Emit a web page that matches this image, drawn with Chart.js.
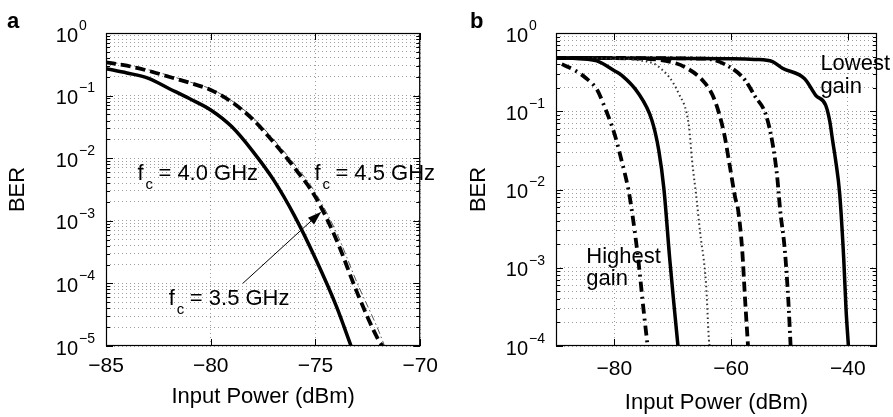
<!DOCTYPE html>
<html><head><meta charset="utf-8">
<script src="https://cdn.jsdelivr.net/npm/chart.js@4.4.0/dist/chart.umd.min.js"></script>
<style>
html,body{margin:0;padding:0;background:#fff;}
#wrap{position:relative;width:893px;height:417px;overflow:hidden;}
canvas{position:absolute;top:0;}
#ca{left:0;}
#cb{left:446px;}
</style></head><body>
<div id="wrap"><canvas id="ca" width="446" height="417"></canvas><canvas id="cb" width="447" height="417"></canvas></div>
<script>
// ---------- tick labels ----------
const xTicksA = [-85, -80, -75, -70];
const yExpA = [-5, -4, -3, -2, -1, 0];
const xTicksB = [-80, -60, -40];
const yExpB = [-4, -3, -2, -1, 0];

// ---------- panel a : BER vs input power for three carrier frequencies ----------
const a40_x = [-85, -84, -83, -82, -81, -80, -79, -78, -77, -76, -75, -74, -73.3];
const a40_y = [0.27, 0.23, 0.19, 0.13, 0.089, 0.059, 0.032, 0.013, 0.0045, 0.0012, 2.5e-4, 4.3e-5, 1e-5];
const a45_x = [-85, -84, -83, -82, -81, -80, -79, -78, -77, -76, -75, -74, -73, -72, -71.8];
const a45_y = [0.34, 0.30, 0.25, 0.20, 0.16, 0.123, 0.079, 0.042, 0.018, 7e-3, 2.4e-3, 5e-4, 7e-5, 1.26e-5, 1e-5];
const a35_x = [-85, -84, -83, -82, -81, -80, -79, -78, -77, -76, -75, -74, -73, -72, -71.7];
const a35_y = [0.35, 0.31, 0.26, 0.21, 0.165, 0.128, 0.083, 0.045, 0.02, 8e-3, 2.8e-3, 6.5e-4, 1e-4, 1.8e-5, 1e-5];

// ---------- panel b : BER vs input power for six gain settings ----------
const b1_x = [-89, -87, -85, -83, -81.7, -80, -78.8, -77.6, -77.1, -75.9, -75, -74.3];
const b1_y = [0.40, 0.34, 0.27, 0.19, 0.115, 0.052, 0.024, 0.01, 6.0e-3, 1.26e-3, 2.9e-4, 1e-4];
const b2_x = [-90, -86, -83, -80, -78.8, -75.9, -73.6, -72.4, -71.5, -70.5, -69.7, -69.1];
const b2_y = [0.48, 0.47, 0.44, 0.33, 0.29, 0.17, 0.078, 0.032, 0.01, 1.26e-3, 2.9e-4, 1e-4];
const b3_x = [-90, -80, -76, -72.4, -69, -67.2, -66.7, -65.9, -65.3, -64.3, -63.8, -63.7];
const b3_y = [0.48, 0.47, 0.45, 0.37, 0.17, 0.063, 0.024, 7.4e-3, 2.8e-3, 6.3e-4, 1.2e-4, 1e-4];
const b4_x = [-90, -75, -70, -68, -64.5, -62.8, -61.2, -60.2, -59.3, -58.8, -58.1, -57.6, -57.1];
const b4_y = [0.48, 0.47, 0.42, 0.37, 0.23, 0.138, 0.052, 0.0195, 7.9e-3, 5.5e-3, 1.7e-3, 3.9e-4, 1e-4];
const b5_x = [-90, -64.5, -60.3, -57.6, -55.9, -54.1, -52.9, -52.1, -51.6, -50.8, -50.2, -49.8];
const b5_y = [0.48, 0.47, 0.37, 0.25, 0.155, 0.093, 0.039, 0.0145, 5.5e-3, 1.7e-3, 3.9e-4, 1e-4];
const b6_x = [-90, -60, -56, -52.9, -51.2, -47.4, -45.5, -43.8, -43.1, -42.6, -42.1, -41.4, -40.7, -40.3, -39.9];
const b6_y = [0.48, 0.47, 0.46, 0.43, 0.355, 0.26, 0.16, 0.12, 0.075, 0.042, 0.024, 8.9e-3, 1.3e-3, 2.9e-4, 1e-4];

const FONT = '"Liberation Sans", Arial, Helvetica, sans-serif';
const GRID = 'rgba(0,0,0,0.38)';

function pts(xs, ys) { return xs.map((x, i) => ({x: x, y: ys[i]})); }
function minus(v) { return v < 0 ? '\u2212' + Math.abs(v) : String(v); }
function logTicks(exps) {
  const t = [];
  exps.forEach((e, i) => {
    if (i === exps.length - 1) { t.push({value: Math.pow(10, e), major: true}); return; }
    for (let m = 1; m <= 9; m++) t.push({value: m * Math.pow(10, e), major: m === 1});
  });
  return t;
}

const matlabAxes = {
  id: 'matlabAxes',
  afterDraw(chart, args, o) {
    const ctx = chart.ctx;
    const xs = chart.scales.x, ys = chart.scales.y;
    const {left, right, top, bottom} = chart.chartArea;
    ctx.save();
    // box
    ctx.strokeStyle = '#000';
    ctx.lineWidth = 1.2;
    ctx.setLineDash([]);
    ctx.strokeRect(left + 0.5, top + 0.5, right - left - 1, bottom - top - 1);
    // inward ticks
    ctx.lineWidth = 1;
    ctx.beginPath();
    ys.ticks.forEach(t => {
      const py = Math.round(ys.getPixelForValue(t.value)) + 0.5;
      const len = t.major ? 7 : 4;
      ctx.moveTo(left, py); ctx.lineTo(left + len, py);
      ctx.moveTo(right, py); ctx.lineTo(right - len, py);
    });
    o.xticks.forEach(v => {
      const px = Math.round(xs.getPixelForValue(v)) + 0.5;
      ctx.moveTo(px, bottom); ctx.lineTo(px, bottom - 7);
      ctx.moveTo(px, top); ctx.lineTo(px, top + 7);
    });
    ctx.stroke();
    // y tick labels 10^k
    ctx.fillStyle = '#000';
    o.yexp.forEach(e => {
      const py = ys.getPixelForValue(Math.pow(10, e));
      ctx.font = '20px ' + FONT;
      ctx.textAlign = 'right';
      ctx.textBaseline = 'middle';
      ctx.fillText('10', left - 28, py + 3);
      ctx.font = '14px ' + FONT;
      ctx.textAlign = 'left';
      ctx.fillText(minus(e), left - 27, py - 7);
    });
    // panel letter
    ctx.font = 'bold 22px ' + FONT;
    ctx.textAlign = 'left';
    ctx.textBaseline = 'alphabetic';
    ctx.fillText(o.letter, o.letterX, 28);
    // annotations
    (o.fc || []).forEach(n => {
      const px = xs.getPixelForValue(n.x), py = ys.getPixelForValue(n.y);
      ctx.font = '22px ' + FONT;
      ctx.fillText('f', px, py);
      ctx.font = '15px ' + FONT;
      ctx.fillText('c', px + 8, py + 9);
      ctx.font = '22px ' + FONT;
      ctx.fillText(n.text, px + 21, py);
    });
    (o.notes || []).forEach(n => {
      ctx.font = '22px ' + FONT;
      ctx.fillText(n.text, xs.getPixelForValue(n.x), ys.getPixelForValue(n.y));
    });
    if (o.arrow) {
      const a = o.arrow;
      const x1 = xs.getPixelForValue(a.x1), y1 = ys.getPixelForValue(a.y1);
      const x2 = xs.getPixelForValue(a.x2), y2 = ys.getPixelForValue(a.y2);
      const ang = Math.atan2(y2 - y1, x2 - x1);
      const hl = 14, hw = 4.5;
      const bx = x2 - hl * Math.cos(ang), by = y2 - hl * Math.sin(ang);
      ctx.beginPath();
      ctx.lineWidth = 1;
      ctx.moveTo(x1, y1); ctx.lineTo(bx, by);
      ctx.stroke();
      ctx.beginPath();
      ctx.moveTo(x2, y2);
      ctx.lineTo(bx + hw * Math.sin(ang), by - hw * Math.cos(ang));
      ctx.lineTo(bx - hw * Math.sin(ang), by + hw * Math.cos(ang));
      ctx.closePath();
      ctx.fill();
    }
    ctx.restore();
  }
};

function lineDs(xs, ys, width, dash, color) {
  return {data: pts(xs, ys), borderColor: color || '#000', borderWidth: width, borderDash: dash,
          pointRadius: 0, fill: false, cubicInterpolationMode: 'monotone', borderCapStyle: 'butt'};
}

function makeOptions(cfg) {
  return {
    responsive: false, animation: false, events: [],
    layout: {padding: {left: 0, right: cfg.padRight, top: 33, bottom: 0}},
    plugins: {legend: {display: false}, tooltip: {enabled: false}, matlabAxes: cfg.plugin},
    scales: {
      x: {type: 'linear', min: cfg.xmin, max: cfg.xmax,
        afterBuildTicks: s => { s.ticks = cfg.xticks.map(v => ({value: v})); },
        afterFit: s => { s.height = 71; },
        grid: {color: GRID, lineWidth: 1, drawTicks: false},
        border: {display: false, dash: [1, 3]},
        ticks: {font: {family: FONT, size: 21}, color: '#000', padding: cfg.xpad, maxRotation: 0, autoSkip: false,
                callback: v => minus(v)},
        title: {display: true, text: 'Input Power (dBm)', font: {family: FONT, size: 22}, color: '#000',
                padding: {top: 0, bottom: cfg.xTitlePad}}
      },
      y: {type: 'logarithmic', min: cfg.ymin, max: 1,
        afterBuildTicks: s => { s.ticks = logTicks(cfg.yexp); },
        afterFit: s => { s.width = cfg.yWidth; },
        grid: {color: GRID, lineWidth: 1, drawTicks: false},
        border: {display: false, dash: [1, 3]},
        ticks: {display: false},
        title: {display: true, text: 'BER', font: {family: FONT, size: 22}, color: '#000',
                padding: {top: cfg.yTitlePad, bottom: 0}}
      }
    }
  };
}

new Chart(document.getElementById('ca'), {
  type: 'line',
  data: {datasets: [
    lineDs(a40_x, a40_y, 3.5, []),
    lineDs(a45_x, a45_y, 3.8, [10, 5]),
    lineDs(a35_x, a35_y, 1, [7, 3, 1.5, 3], '#555')
  ]},
  options: makeOptions({
    padRight: 20, xmin: -85, xmax: -70, xticks: xTicksA, ymin: 1e-5, yexp: yExpA, yWidth: 106,
    xpad: 8, xTitlePad: 7, yTitlePad: 5,
    plugin: {
      letter: 'a', letterX: 7, xticks: xTicksA, yexp: yExpA,
      fc: [{x: -83.5, y: 4.5e-3, text: '= 4.0 GHz'},
           {x: -75.05, y: 4.5e-3, text: '= 4.5 GHz'},
           {x: -82.0, y: 4.5e-5, text: '= 3.5 GHz'}],
      arrow: {x1: -78.47, y1: 1.0e-4, x2: -74.72, y2: 1.4e-3}
    }
  }),
  plugins: [matlabAxes]
});

new Chart(document.getElementById('cb'), {
  type: 'line',
  data: {datasets: [
    lineDs(b1_x, b1_y, 3.8, [10, 5, 2, 5]),
    lineDs(b2_x, b2_y, 3.5, []),
    lineDs(b3_x, b3_y, 2, [1.5, 3], '#333'),
    lineDs(b4_x, b4_y, 3.8, [10, 5]),
    lineDs(b5_x, b5_y, 3.8, [10, 4, 2, 4]),
    lineDs(b6_x, b6_y, 3.5, [])
  ]},
  options: makeOptions({
    padRight: 16, xmin: -90, xmax: -35, xticks: xTicksB, ymin: 1e-4, yexp: yExpB, yWidth: 110,
    xpad: 11, xTitlePad: 1, yTitlePad: 20,
    plugin: {
      letter: 'b', letterX: 24, xticks: xTicksB, yexp: yExpB,
      notes: [{x: -44.7, y: 0.339, text: 'Lowest'},
              {x: -44.7, y: 0.17, text: 'gain'},
              {x: -84.8, y: 1.15e-3, text: 'Highest'},
              {x: -84.8, y: 6.0e-4, text: 'gain'}]
    }
  }),
  plugins: [matlabAxes]
});
</script>
</body></html>
